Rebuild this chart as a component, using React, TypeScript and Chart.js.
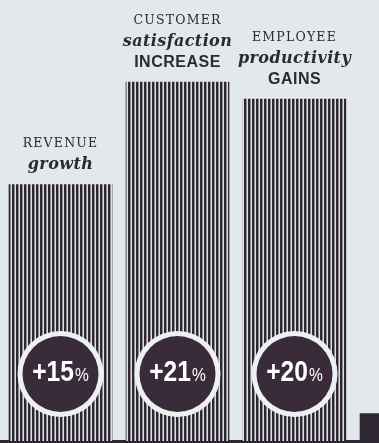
import { useEffect, useRef } from 'react';
import { Chart, registerables } from 'chart.js';

Chart.register(...registerables);

// ---- data ----
const capsLabels = ['REVENUE', 'CUSTOMER', 'EMPLOYEE'];
const italicLabels = ['growth', 'satisfaction', 'productivity'];
const boldLabels = ['', 'INCREASE', 'GAINS'];
const values = [15, 21, 20];
const positions = [0, 1, 2];
// partial neighbouring bar cut off at the right edge
const edgeBarPosition = 3;
const edgeBarValue = 1.6;

const X_MIN = -0.517;
const X_MAX = 2.722;
const Y_MAX = 25.8;

const BG = '#e3e8ea';
const DARK = '#2d2733';
const TEXT = '#2b2a30';
const CIRCLE = '#3a2b3a';
const RING = '#eef1f2';

function makePattern(): CanvasPattern | string {
  const c = document.createElement('canvas');
  c.width = 4;
  c.height = 4;
  const g = c.getContext('2d');
  if (!g) return DARK;
  g.fillStyle = BG;
  g.fillRect(0, 0, 4, 4);
  g.fillStyle = '#2b2831';
  g.fillRect(0, 0, 2, 4);
  g.fillStyle = '#8e8c92';
  g.fillRect(2, 0, 1, 4);
  g.fillStyle = '#dde1e3';
  g.fillRect(3, 0, 1, 4);
  const p = g.createPattern(c, 'repeat');
  return p || DARK;
}

const labelPlugin = {
  id: 'barLabels',
  afterDatasetsDraw(chart: any) {
    const ctx: CanvasRenderingContext2D = chart.ctx;
    const meta = chart.getDatasetMeta(0);
    ctx.save();
    values.forEach((v, i) => {
      const el: any = meta.data[i];
      if (!el) return;
      const cx = el.x;
      const top = el.y;
      const base = el.base;

      // --- labels above bar ---
      const lines: { text: string; font: string; spacing: string; half: number }[] = [];
      lines.push({ text: capsLabels[i], font: '12.5px "DejaVu Serif"', spacing: '1.2px', half: 4.5 });
      lines.push({ text: italicLabels[i], font: 'italic bold 16px "DejaVu Serif"', spacing: '0.4px', half: 5.5 });
      if (boldLabels[i]) {
        lines.push({ text: boldLabels[i], font: 'bold 16px "Liberation Sans"', spacing: '0.5px', half: 6 });
      }
      ctx.fillStyle = TEXT;
      ctx.textAlign = 'center';
      ctx.textBaseline = 'alphabetic';
      const n = lines.length;
      lines.forEach((ln, k) => {
        const center = top - 21 - (n - 1 - k) * 21;
        ctx.font = ln.font;
        (ctx as any).letterSpacing = ln.spacing;
        ctx.fillText(ln.text, cx, center + ln.half);
      });
      (ctx as any).letterSpacing = '0px';

      // --- circle badge near bottom ---
      const cy = base - 67;
      ctx.beginPath();
      ctx.arc(cx, cy, 43, 0, Math.PI * 2);
      ctx.fillStyle = RING;
      ctx.fill();
      ctx.beginPath();
      ctx.arc(cx, cy, 38, 0, Math.PI * 2);
      ctx.fillStyle = CIRCLE;
      ctx.fill();

      const num = '+' + v;
      const pct = '%';
      const squeeze = 0.82;
      const numFont = 'bold 30px "Liberation Sans"';
      const pctFont = '19px "Liberation Sans"';
      ctx.font = numFont;
      const wNum = ctx.measureText(num).width * squeeze;
      ctx.font = pctFont;
      const wPct = ctx.measureText(pct).width * squeeze;
      const gap = 1;
      const start = cx - (wNum + wPct + gap) / 2;
      const baseline = cy + 7;
      ctx.textAlign = 'left';
      ctx.fillStyle = '#ffffff';
      ctx.save();
      ctx.translate(start, baseline);
      ctx.scale(squeeze, 1);
      ctx.font = numFont;
      ctx.fillText(num, 0, 0);
      ctx.font = pctFont;
      ctx.fillText(pct, (wNum + gap) / squeeze, 0);
      ctx.restore();
    });
    ctx.restore();
  },
};

export default function App() {
  const ref = useRef<HTMLCanvasElement | null>(null);

  useEffect(() => {
    document.body.style.margin = '0';
    const canvas = ref.current;
    if (!canvas) return;
    const pattern = makePattern();
    const data = positions.map((x, i) => ({ x, y: values[i] }));
    data.push({ x: edgeBarPosition, y: edgeBarValue });
    const colors: any[] = positions.map(() => pattern);
    colors.push(DARK);

    const chart = new Chart(canvas, {
      type: 'bar',
      data: {
        datasets: [
          {
            data: data as any,
            backgroundColor: colors,
            borderWidth: 0,
            barThickness: 103,
          },
        ],
      },
      options: {
        animation: false,
        responsive: true,
        maintainAspectRatio: false,
        layout: { autoPadding: false, padding: { left: 0, right: 0, top: 0, bottom: 2 } },
        plugins: { legend: { display: false }, tooltip: { enabled: false } },
        scales: {
          x: {
            type: 'linear',
            min: X_MIN,
            max: X_MAX,
            offset: false,
            z: 1,
            ticks: { display: false },
            grid: { display: false, drawTicks: false, offset: false },
            border: { display: true, color: DARK, width: 3 },
          },
          y: {
            display: false,
            min: 0,
            max: Y_MAX,
          },
        },
      },
      plugins: [labelPlugin],
    });
    return () => chart.destroy();
  }, []);

  return (
    <div
      style={{
        position: 'absolute',
        left: 0,
        top: 0,
        width: 379,
        height: 443,
        background: BG,
      }}
    >
      <canvas ref={ref} />
    </div>
  );
}
